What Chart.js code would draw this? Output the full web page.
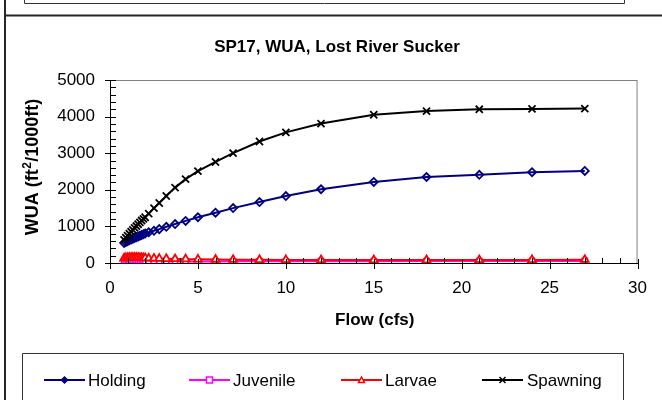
<!DOCTYPE html>
<html>
<head>
<meta charset="utf-8">
<script src="https://cdn.jsdelivr.net/npm/chart.js@4.4.1/dist/chart.umd.min.js"></script>
<style>
  html, body { margin: 0; padding: 0; background: #fff; }
  canvas { display: block; }
</style>
</head>
<body>
<canvas id="wua" width="662" height="400"></canvas>
<script>
// Dữ liệu (Flow cfs / WUA ft2/1000ft)
var FLOWS    = [0.8, 0.9, 1.0, 1.1, 1.2, 1.3, 1.4, 1.5, 1.6, 1.7, 1.8, 1.9, 2.0,
                2.2, 2.5, 2.8, 3.2, 3.7, 4.3, 5, 6, 7, 8.5, 10, 12, 15, 18, 21, 24, 27];
var HOLDING  = [550, 575, 598, 620, 642, 663, 684, 705, 725, 745, 765, 785, 805,
                840, 880, 925, 990, 1065, 1150, 1250, 1375, 1500, 1665, 1830, 2015, 2215, 2350, 2410, 2480, 2515];
var JUVENILE = [22, 24, 25, 27, 28, 30, 31, 32, 33, 34, 35, 36, 36,
                37, 38, 39, 40, 41, 42, 43, 44, 45, 46, 47, 48, 50, 52, 54, 56, 58];
var LARVAE   = [130, 140, 145, 148, 150, 150, 150, 148, 146, 144, 140, 138, 135,
                130, 125, 120, 115, 110, 105, 100, 95, 90, 88, 85, 82, 80, 80, 82, 85, 90];
var SPAWNING = [630, 690, 745, 800, 855, 905, 960, 1010, 1060, 1110, 1160, 1205, 1250,
                1350, 1500, 1640, 1830, 2060, 2290, 2510, 2760, 3000, 3320, 3570, 3810, 4050, 4150, 4200, 4210, 4220];

var SERIES_NAMES = ['Holding', 'Juvenile', 'Larvae', 'Spawning'];
var X_TICKS = [0, 5, 10, 15, 20, 25, 30];
var Y_TICKS = [0, 1000, 2000, 3000, 4000, 5000];

var TITLE = 'SP17, WUA, Lost River Sucker';
var X_TITLE = 'Flow (cfs)';
var Y_TITLE = ['WUA (ft', '2', '/1000ft)'];   // "2" là chỉ số trên

var FONT = '"Liberation Sans", Arial, sans-serif';
var COLORS = ['#000080', '#ff00ff', '#ff0000', '#000000'];
var STYLES = ['rectRot', 'rect', 'triangle', 'crossRot'];

function pts(ys) {
  return FLOWS.map(function (f, i) { return { x: f, y: ys[i] }; });
}

// ---------- marker nhỏ cho legend ----------
function marker(ctx, style, x, y, r, color, fill) {
  ctx.save();
  ctx.strokeStyle = color; ctx.fillStyle = fill; ctx.lineWidth = 1.5;
  ctx.beginPath();
  if (style === 'rectRot') {
    ctx.moveTo(x, y - r); ctx.lineTo(x + r, y); ctx.lineTo(x, y + r); ctx.lineTo(x - r, y); ctx.closePath();
    ctx.fill(); ctx.stroke();
  } else if (style === 'rect') {
    ctx.rect(x - r, y - r, 2 * r, 2 * r); ctx.fill(); ctx.stroke();
  } else if (style === 'triangle') {
    ctx.moveTo(x, y - r); ctx.lineTo(x + r, y + r * 0.8); ctx.lineTo(x - r, y + r * 0.8); ctx.closePath();
    ctx.fill(); ctx.stroke();
  } else {
    ctx.moveTo(x - r, y - r); ctx.lineTo(x + r, y + r); ctx.moveTo(x + r, y - r); ctx.lineTo(x - r, y + r);
    ctx.stroke();
  }
  ctx.restore();
}

// ---------- khung kiểu Excel + tick + chữ + legend ----------
var excelFrame = {
  id: 'excelFrame',
  beforeDraw: function (chart) {
    var ctx = chart.ctx, a = chart.chartArea;
    ctx.save();
    ctx.fillStyle = '#fff';
    ctx.fillRect(0, 0, chart.width, chart.height);
    ctx.strokeStyle = '#808080'; ctx.lineWidth = 1;
    ctx.strokeRect(a.left + 0.5, a.top + 0.5, a.right - a.left - 1, a.bottom - a.top);
    ctx.restore();
  },
  afterDraw: function (chart) {
    var ctx = chart.ctx, a = chart.chartArea;
    var xs = chart.scales.x, ys = chart.scales.y;
    var v, p;
    ctx.save();

    // khung ngoài
    ctx.strokeStyle = '#262626'; ctx.lineWidth = 2;
    ctx.beginPath();
    ctx.moveTo(5, 0); ctx.lineTo(5, 400);
    ctx.moveTo(4, 15.5); ctx.lineTo(662, 15.5);
    ctx.stroke();
    ctx.lineWidth = 1;
    ctx.strokeStyle = '#333';
    ctx.beginPath();
    ctx.moveTo(24.5, -1); ctx.lineTo(24.5, 3.5); ctx.lineTo(624.5, 3.5); ctx.lineTo(624.5, -1);
    ctx.stroke();
    // khung legend
    ctx.beginPath();
    ctx.moveTo(22.5, 401); ctx.lineTo(22.5, 353.5); ctx.lineTo(623.5, 353.5); ctx.lineTo(623.5, 401);
    ctx.stroke();

    // tick trục
    ctx.strokeStyle = '#000'; ctx.lineWidth = 1;
    ctx.beginPath();
    for (v = 0; v <= 5000; v += 200) {
      p = Math.round(ys.getPixelForValue(v)) + 0.5;
      if (v % 1000 === 0) { ctx.moveTo(a.left - 5, p); ctx.lineTo(a.left + 6, p); }
      else { ctx.moveTo(a.left, p); ctx.lineTo(a.left + 6, p); }
    }
    for (v = 0; v <= 30; v += 1) {
      p = Math.round(xs.getPixelForValue(v)) + 0.5;
      if (v % 5 === 0) { ctx.moveTo(p, a.bottom - 4); ctx.lineTo(p, a.bottom + 6); }
      else { ctx.moveTo(p, a.bottom - 5); ctx.lineTo(p, a.bottom); }
    }
    ctx.stroke();

    // tiêu đề
    ctx.fillStyle = '#000';
    ctx.textAlign = 'center'; ctx.textBaseline = 'middle';
    ctx.font = 'bold 17px ' + FONT;
    ctx.fillText(TITLE, 337, 47);
    ctx.fillText(X_TITLE, (a.left + a.right) / 2 + 1, 320);

    // tiêu đề trục Y (xoay, có chỉ số trên)
    var big = 'bold 18px ' + FONT, small = 'bold 12px ' + FONT;
    ctx.font = big; var w0 = ctx.measureText(Y_TITLE[0]).width, w2 = ctx.measureText(Y_TITLE[2]).width;
    ctx.font = small; var w1 = ctx.measureText(Y_TITLE[1]).width + 1;
    var tot = w0 + w1 + w2;
    ctx.save();
    ctx.translate(33, 167);
    ctx.rotate(-Math.PI / 2);
    ctx.textAlign = 'left';
    ctx.font = big; ctx.fillText(Y_TITLE[0], -tot / 2, 0);
    ctx.font = small; ctx.fillText(Y_TITLE[1], -tot / 2 + w0 + 0.5, -5);
    ctx.font = big; ctx.fillText(Y_TITLE[2], -tot / 2 + w0 + w1, 0);
    ctx.restore();

    // legend
    var lx = [[44, 85, 88], [189, 230, 233], [341, 382, 385], [482, 523, 527]];
    var ly = 380;
    ctx.font = '17px ' + FONT;
    ctx.textAlign = 'left';
    SERIES_NAMES.forEach(function (name, i) {
      var L = lx[i];
      ctx.strokeStyle = COLORS[i]; ctx.lineWidth = 2;
      ctx.beginPath(); ctx.moveTo(L[0], ly); ctx.lineTo(L[1], ly); ctx.stroke();
      marker(ctx, STYLES[i], (L[0] + L[1]) / 2, ly, 3, COLORS[i], i === 0 ? COLORS[0] : '#fff');
      ctx.fillStyle = '#000';
      ctx.fillText(name, L[2], ly + 1);
    });
    ctx.restore();
  }
};

function series(i, ys, radius) {
  return {
    label: SERIES_NAMES[i],
    data: pts(ys),
    borderColor: COLORS[i],
    backgroundColor: 'rgba(255,255,255,0)',
    borderWidth: 2,
    pointStyle: STYLES[i],
    pointRadius: radius,
    pointBorderColor: COLORS[i],
    pointBackgroundColor: i === 2 || i === 1 ? '#fff' : 'rgba(255,255,255,0)',
    pointBorderWidth: 1.8,
    tension: 0,
    order: 3 - i
  };
}

function plain(v) { return String(v); }

new Chart(document.getElementById('wua'), {
  type: 'line',
  data: {
    datasets: [
      series(0, HOLDING, 4),
      series(1, JUVENILE, 3.5),
      series(2, LARVAE, 4.5),
      series(3, SPAWNING, 5)
    ]
  },
  options: {
    responsive: false,
    animation: false,
    devicePixelRatio: 1,
    layout: { padding: { left: 50, top: 80, right: 12, bottom: 97 } },
    plugins: { legend: { display: false }, title: { display: false }, tooltip: { enabled: false } },
    scales: {
      x: {
        type: 'linear', min: 0, max: 30,
        afterBuildTicks: function (s) { s.ticks = X_TICKS.map(function (v) { return { value: v }; }); },
        afterFit: function (s) { s.height = 40; },
        grid: { display: false, drawTicks: false },
        border: { display: true, color: '#000', width: 1 },
        ticks: { color: '#000', font: { family: FONT, size: 17 }, padding: 15, maxRotation: 0, callback: plain }
      },
      y: {
        type: 'linear', min: 0, max: 5000,
        afterBuildTicks: function (s) { s.ticks = Y_TICKS.map(function (v) { return { value: v }; }); },
        afterFit: function (s) { s.width = 60; },
        grid: { display: false, drawTicks: false },
        border: { display: true, color: '#000', width: 1 },
        ticks: { color: '#000', font: { family: FONT, size: 17 }, padding: 15, callback: plain }
      }
    }
  },
  plugins: [excelFrame]
});
</script>
</body>
</html>
